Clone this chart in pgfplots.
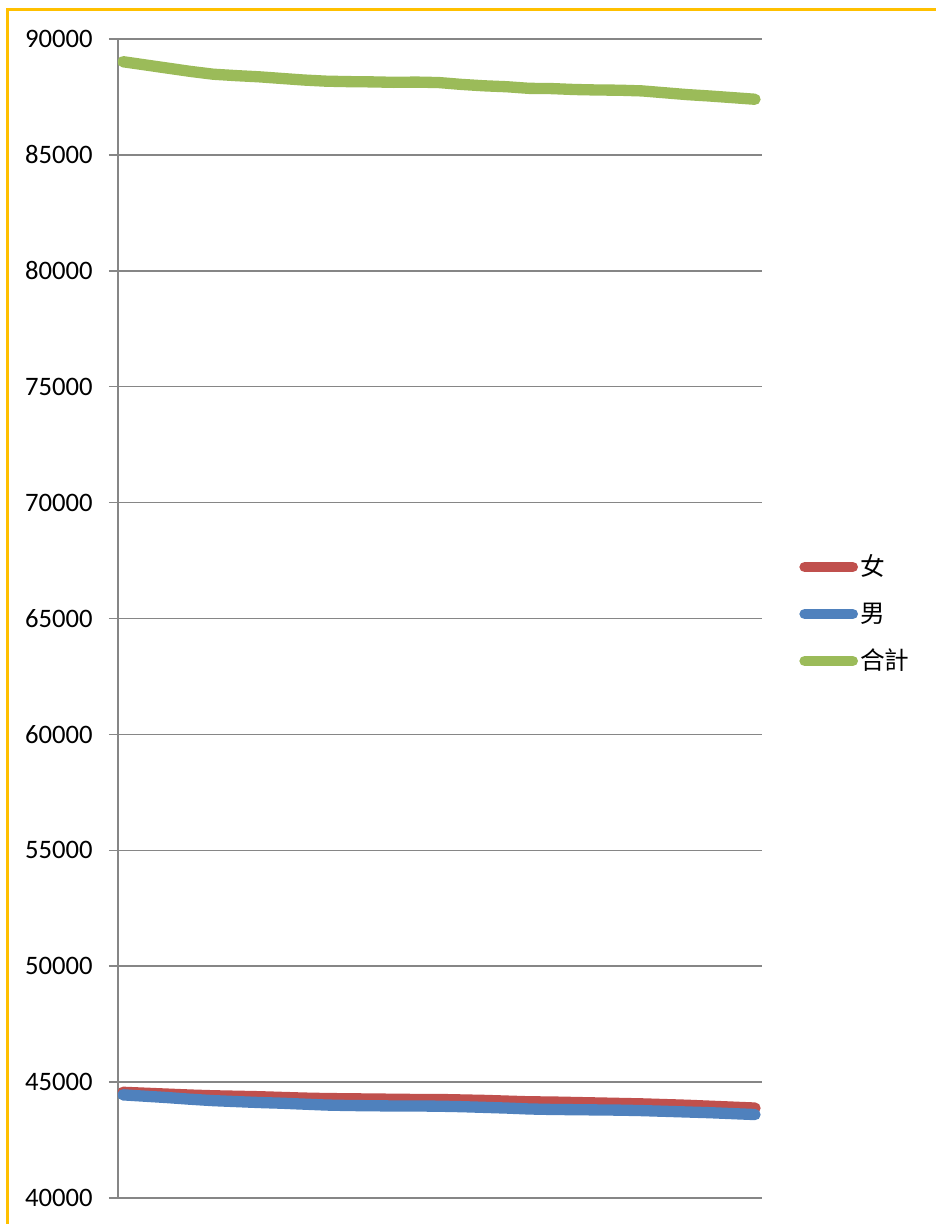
\documentclass[border=0pt]{standalone}
\usepackage{fontspec}
\setmainfont{Carlito}
\newfontfamily\cjk{Noto Sans CJK TC}
\usepackage{pgfplots}
\usepackage{pgfplotstable}
\pgfplotsset{compat=1.18}

\definecolor{nv}{RGB}{192,80,77}
\definecolor{nan}{RGB}{79,129,189}
\definecolor{hj}{RGB}{155,187,89}
\definecolor{gridc}{RGB}{134,134,134}
\definecolor{frame}{RGB}{255,192,0}

% columns: index, female, male, total
\pgfplotstableread{
i  f      m      t
0  44560  44450  89020
1  44520  44390  88880
2  44480  44330  88740
3  44440  44260  88600
4  44410  44200  88480
5  44390  44160  88420
6  44370  44120  88370
7  44340  44090  88300
8  44310  44050  88230
9  44290  44010  88180
10 44280  43990  88160
11 44270  43980  88150
12 44260  43970  88130
13 44250  43970  88140
14 44250  43960  88120
15 44230  43940  88040
16 44210  43910  87980
17 44180  43880  87940
18 44150  43840  87870
19 44140  43820  87860
20 44120  43810  87820
21 44100  43800  87800
22 44080  43790  87790
23 44060  43770  87760
24 44030  43740  87680
25 44000  43710  87600
26 43960  43680  87540
27 43920  43640  87470
28 43880  43600  87400
}\pop

\begin{document}
\begin{tikzpicture}
\useasboundingbox (-88.5pt,-19.5pt) rectangle (612.75pt,898.5pt);
\draw[frame, line width=2.25pt] (-82.7pt,-40pt) -- (-82.7pt,891pt) -- (640pt,891pt);
\begin{axis}[
  at={(0pt,0pt)}, anchor=south west,
  scale only axis, width=483pt, height=869.25pt,
  xmin=-0.22, xmax=28.31, ymin=40000, ymax=90000,
  xtick=\empty, ytick distance=5000,
  ymajorgrids, grid style={gridc, line width=1.1pt},
  axis x line*=bottom, axis y line*=left,
  axis line style={-, gridc, line width=1.1pt},
  tick align=outside, major tick length=6.75pt,
  ytick style={gridc, line width=1.1pt},
  scaled y ticks=false,
  yticklabel style={font=\fontsize{20}{24}\selectfont, inner sep=0pt, anchor=east, xshift=-12pt,
    /pgf/number format/1000 sep={}},
  /pgf/number format/assume math mode=true,
  every axis plot/.append style={line width=8.5pt, line cap=round, line join=round},
  legend image code/.code={\draw[#1, line width=8pt, line cap=round] (0pt,3pt) -- (36pt,3pt);},
  legend style={at={(1.058,0.5004)}, anchor=west, draw=none, fill=none,
    inner sep=0pt, outer sep=0pt, column sep=1.5pt,
    font=\cjk\fontsize{18.5}{20}\selectfont,
    nodes={inner sep=0pt, text height=20.625pt, text depth=14.625pt}},
  legend cell align=left,
]
\addplot[nv] table[x=i, y=f] \pop;
\addplot[nan] table[x=i, y=m] \pop;
\addplot[hj] table[x=i, y=t] \pop;
\legend{女,男,合計}
\end{axis}
\end{tikzpicture}
\end{document}
